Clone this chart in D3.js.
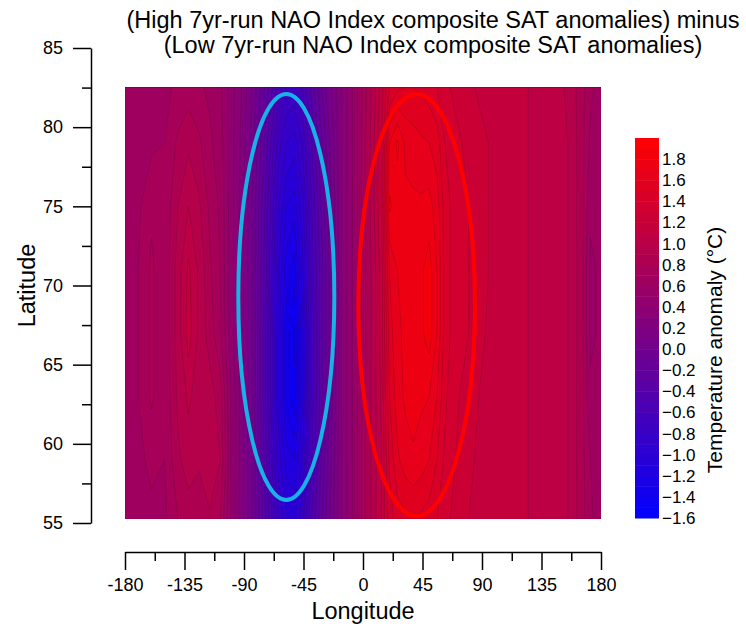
<!DOCTYPE html>
<html><head><meta charset="utf-8">
<script src="https://cdn.jsdelivr.net/npm/d3@7"></script>
<style>
body{margin:0;background:#fff}
text{font-family:"Liberation Sans",Arial,sans-serif;fill:#000}
</style>
</head><body>
<svg id="chart" width="746" height="627"></svg>
<script>
// ---- data ----
const lons = [-180,-170,-160,-150,-140,-132,-124,-116,-108,-100,-92,-84,-76,-70,-64,-58,-52,-46,-40,-34,-28,-22,-16,-10,-4,2,8,14,20,26,32,38,44,50,56,62,70,80,95,110,125,140,155,165,172,180];
const lats = [55.25, 59, 63, 67, 71, 75, 79, 82.5];
const sat55 = [0.62,0.66,0.68,0.68,0.80,0.85,0.82,0.88,0.80,0.50,0.25,0.00,-0.30,-0.55,-0.80,-0.98,-1.02,-0.85,-0.55,-0.32,-0.10,0.10,0.30,0.45,0.60,0.80,0.95,1.10,1.35,1.45,1.48,1.50,1.48,1.45,1.40,1.32,1.28,1.20,1.12,1.10,1.10,1.08,1.00,0.85,0.72,0.64];
const sat59 = [0.62,0.68,0.72,0.70,0.88,0.95,0.92,1.00,0.90,0.50,0.25,0.00,-0.35,-0.65,-0.95,-1.15,-1.20,-1.00,-0.65,-0.40,-0.15,0.08,0.30,0.45,0.60,0.80,0.95,1.10,1.42,1.58,1.65,1.68,1.65,1.60,1.50,1.38,1.30,1.22,1.15,1.10,1.10,1.08,1.00,0.85,0.70,0.62];
const sat63 = [0.62,0.70,0.82,0.72,0.92,1.02,0.95,0.95,0.85,0.50,0.25,0.00,-0.38,-0.70,-1.05,-1.35,-1.48,-1.15,-0.72,-0.45,-0.20,0.05,0.30,0.45,0.60,0.80,0.95,1.12,1.50,1.65,1.72,1.75,1.72,1.70,1.60,1.42,1.32,1.25,1.15,1.10,1.10,1.08,1.00,0.85,0.62,0.62];
const sat67 = [0.62,0.70,0.82,0.72,0.95,1.15,0.98,0.85,0.72,0.45,0.25,0.00,-0.38,-0.70,-1.05,-1.35,-1.52,-1.15,-0.75,-0.45,-0.20,0.05,0.30,0.45,0.60,0.80,0.95,1.15,1.55,1.68,1.72,1.74,1.78,1.85,1.70,1.45,1.35,1.30,1.18,1.10,1.10,1.08,1.00,0.85,0.58,0.62];
const sat71 = [0.62,0.70,0.82,0.72,0.95,1.12,0.98,0.82,0.70,0.45,0.25,0.00,-0.35,-0.65,-1.00,-1.25,-1.35,-1.05,-0.70,-0.45,-0.20,0.05,0.30,0.45,0.60,0.80,0.95,1.15,1.60,1.70,1.72,1.74,1.78,1.85,1.70,1.45,1.35,1.30,1.20,1.10,1.10,1.08,1.00,0.85,0.58,0.62];
const sat75 = [0.62,0.68,0.78,0.72,0.90,1.00,0.92,0.78,0.68,0.45,0.26,0.00,-0.32,-0.60,-0.90,-1.10,-1.15,-0.95,-0.65,-0.40,-0.15,0.08,0.30,0.45,0.60,0.80,0.98,1.20,1.82,1.75,1.72,1.72,1.72,1.74,1.65,1.45,1.35,1.30,1.20,1.12,1.10,1.08,1.00,0.85,0.62,0.62];
const sat79 = [0.62,0.66,0.68,0.70,0.82,0.88,0.82,0.72,0.65,0.45,0.28,0.05,-0.25,-0.50,-0.75,-0.90,-0.95,-0.80,-0.55,-0.30,-0.10,0.10,0.30,0.45,0.60,0.80,0.98,1.20,1.70,1.82,1.68,1.65,1.62,1.60,1.55,1.40,1.32,1.28,1.20,1.12,1.10,1.08,1.00,0.85,0.68,0.64];
const sat82 = [0.62,0.65,0.66,0.68,0.72,0.75,0.72,0.68,0.62,0.45,0.30,0.10,-0.15,-0.35,-0.55,-0.70,-0.72,-0.60,-0.40,-0.20,0.00,0.15,0.30,0.45,0.60,0.78,0.95,1.15,1.40,1.48,1.50,1.50,1.48,1.45,1.40,1.32,1.28,1.22,1.15,1.10,1.10,1.08,0.98,0.85,0.72,0.65];

const latTicks = [55,60,65,70,75,80,85];
const latMinor = [57.5,62.5,67.5,72.5,77.5,82.5];
const lonTicks = [-180,-135,-90,-45,0,45,90,135,180];
const lonMinor = [-157.5,-112.5,-67.5,-22.5,22.5,67.5,112.5,157.5];
const cbarTicks = [1.8,1.6,1.4,1.2,1.0,0.8,0.6,0.4,0.2,0.0,-0.2,-0.4,-0.6,-0.8,-1.0,-1.2,-1.4,-1.6];
const cbarRange = [-1.6, 2.0];

const ellipseLon  = [-58.0, 40.6];
const ellipseLat  = [69.27, 68.77];
const ellipseRLon = [36.3, 44.1];
const ellipseRLat = [12.82, 13.33];
const ellipseColor = ["#17b3e6", "#ff0000"];

const titleLines = ["(High 7yr-run NAO Index composite SAT anomalies) minus",
                    "(Low 7yr-run NAO Index composite SAT anomalies)"];

// ---- scales ----
const svg = d3.select("#chart");
const x = d3.scaleLinear().domain([-180,180]).range([125,601]);
const y = d3.scaleLinear().domain([55,85]).range([523,48]);
const color = d3.scaleLinear().domain(cbarRange).range(["#0000ff","#ff0000"]).clamp(true);

const rows = [sat55,sat59,sat63,sat67,sat71,sat75,sat79,sat82];
const nx = lons.length, ny = lats.length;
const values = [];
rows.forEach(r => r.forEach(v => values.push(v)));
const lonIdx = d3.scaleLinear().domain(d3.range(nx)).range(lons).clamp(true);
const latIdx = d3.scaleLinear().domain(d3.range(ny)).range(lats).clamp(true);

const step = 0.1;
const thresholds = d3.range(0, 36).map(i => +(cbarRange[0] + i*step).toFixed(2));
const contours = d3.contours().size([nx, ny]).thresholds(thresholds)(values);
const proj = d3.geoTransform({point(px, py){
  this.stream.point(x(lonIdx(px - 0.5)), y(latIdx(py - 0.5)));
}});
const path = d3.geoPath(proj);

const x0 = x(lons[0]), x1 = x(lons[nx-1]), yTop = y(lats[ny-1]), yBot = y(lats[0]);
svg.append("defs").append("clipPath").attr("id","plotclip").append("rect")
  .attr("x", x0).attr("y", yTop).attr("width", x1 - x0).attr("height", yBot - yTop);

svg.append("g").attr("clip-path","url(#plotclip)")
  .selectAll("path").data(contours).join("path")
  .attr("d", path)
  .attr("fill", d => color(d.value + step/2))
  .attr("stroke", "rgba(50,0,40,0.3)")
  .attr("stroke-width", 0.6);

// ---- ellipses ----
svg.append("g").selectAll("ellipse").data(d3.range(ellipseLon.length)).join("ellipse")
  .attr("cx", i => x(ellipseLon[i]))
  .attr("cy", i => y(ellipseLat[i]))
  .attr("rx", i => x(ellipseLon[i] + ellipseRLon[i]) - x(ellipseLon[i]))
  .attr("ry", i => y(ellipseLat[i] - ellipseRLat[i]) - y(ellipseLat[i]))
  .attr("fill", "none")
  .attr("stroke", i => ellipseColor[i])
  .attr("stroke-width", 4);

// ---- axes ----
function styleAxis(g){
  g.selectAll("path,line").attr("stroke","#000").attr("stroke-width",1.5);
  g.selectAll("text").attr("font-size",18).attr("font-family","Liberation Sans, Arial, sans-serif").attr("fill","#000");
}
const yAxisG = svg.append("g").attr("transform","translate(91,0)")
  .call(d3.axisLeft(y).tickValues(latTicks).tickSize(18).tickSizeOuter(0).tickPadding(10).tickFormat(d3.format("d")));
styleAxis(yAxisG);
const yMinorG = svg.append("g").attr("transform","translate(91,0)")
  .call(d3.axisLeft(y).tickValues(latMinor).tickSize(9).tickSizeOuter(0).tickFormat(""));
yMinorG.select(".domain").remove();
styleAxis(yMinorG);

const xAxisG = svg.append("g").attr("transform","translate(0,552)")
  .call(d3.axisBottom(x).tickValues(lonTicks).tickSize(18).tickSizeOuter(0).tickPadding(8).tickFormat(d3.format("d")));
styleAxis(xAxisG);
const xMinorG = svg.append("g").attr("transform","translate(0,552)")
  .call(d3.axisBottom(x).tickValues(lonMinor).tickSize(9).tickSizeOuter(0).tickFormat(""));
xMinorG.select(".domain").remove();
styleAxis(xMinorG);

// plain hyphen labels like the reference
xAxisG.selectAll("text").text(d => String(d));
yAxisG.selectAll("text").text(d => String(d));

svg.append("text").attr("x", x(0)).attr("y", 619).attr("text-anchor","middle")
  .attr("font-size", 23.5).text("Longitude");
svg.append("text").attr("transform", `translate(35,${y(70)}) rotate(-90)`).attr("text-anchor","middle")
  .attr("font-size", 23.5).text("Latitude");

// ---- title ----
svg.append("g").selectAll("text").data(titleLines).join("text")
  .attr("x", 433).attr("y", (d,i) => 28 + i*25).attr("text-anchor","middle")
  .attr("font-size", 23.5).text(d => d);

// ---- colorbar ----
const cb = d3.scaleLinear().domain(cbarRange).range([518,138]);
const cbBands = d3.range(0, 36).map(i => +(cbarRange[0] + i*step).toFixed(2));
svg.append("g").selectAll("rect").data(cbBands).join("rect")
  .attr("x", 635).attr("width", 24)
  .attr("y", d => cb(d + step))
  .attr("height", d => cb(d) - cb(d + step) + 0.5)
  .attr("fill", d => color(d + step/2));
svg.append("g").selectAll("text").data(cbarTicks).join("text")
  .attr("x", 662).attr("y", d => cb(d)).attr("dy","0.35em")
  .attr("font-size", 17).text(d => d3.format(".1f")(d));
svg.append("text").attr("transform", `translate(722,350) rotate(-90)`).attr("text-anchor","middle")
  .attr("font-size", 21).text("Temperature anomaly (\u00B0C)");
</script>
</body></html>
